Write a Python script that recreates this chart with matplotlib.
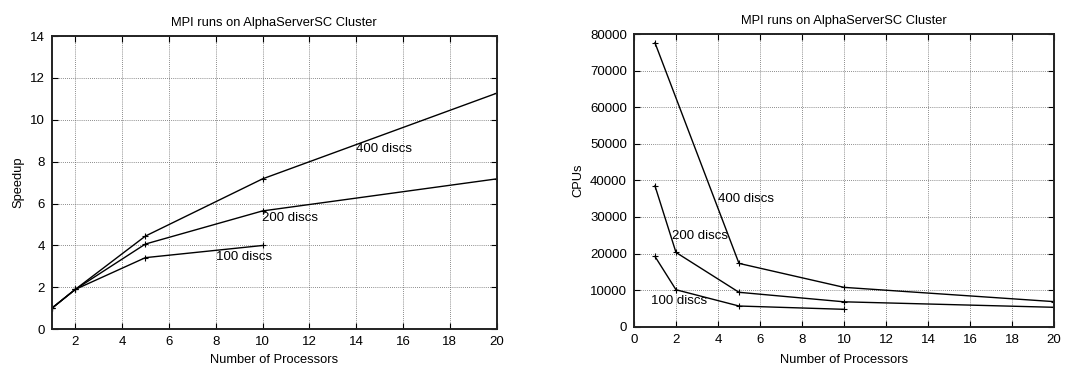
import matplotlib

matplotlib.use("Agg")
import matplotlib.pyplot as plt

# speedup panel
procs_100 = [1, 2, 5, 10]
speedup_100 = [1.0, 1.9, 3.42, 4.0]
procs_200 = [1, 2, 5, 10, 20]
speedup_200 = [1.0, 1.9, 4.07, 5.65, 7.18]
procs_400 = [1, 2, 5, 10, 20]
speedup_400 = [1.0, 1.9, 4.45, 7.18, 11.27]

# cpu time panel
cpu_procs_100 = [1, 2, 5, 10]
cpu_100 = [19200, 10100, 5650, 4750]
cpu_procs_200 = [1, 2, 5, 10, 20]
cpu_200 = [38500, 20300, 9400, 6800, 5300]
cpu_procs_400 = [1, 5, 10, 20]
cpu_400 = [77600, 17300, 10750, 6850]

TITLE = "MPI runs on AlphaServerSC Cluster"

plt.rcParams.update(
    {
        "font.family": ["Liberation Sans", "DejaVu Sans"],
        "font.size": 9.3,
        "axes.linewidth": 1.4,
        "axes.edgecolor": "#222222",
    }
)


def style(ax, labelpad):
    ax.grid(True, linestyle=(0, (1, 1.5)), color="#666666", linewidth=0.6)
    ax.tick_params(direction="in", length=4, width=0.8, top=True, right=True,
                   labelsize=9.5, pad=5)
    ax.set_title(TITLE, fontsize=9.3, pad=7)
    ax.set_xlabel("Number of Processors", fontsize=9.3, labelpad=labelpad)


def draw(ax, x, y):
    ax.plot(x, y, color="black", linewidth=1.0, marker="+", markersize=5,
            markeredgewidth=0.8)


fig = plt.figure(figsize=(10.8, 3.66), dpi=100)
ax1 = fig.add_axes([0.0479, 0.1003, 0.412, 0.8013])
ax2 = fig.add_axes([0.587, 0.1074, 0.389, 0.7997])

draw(ax1, procs_100, speedup_100)
draw(ax1, procs_200, speedup_200)
draw(ax1, procs_400, speedup_400)
ax1.set_xlim(1, 20)
ax1.set_ylim(0, 14)
ax1.set_xticks([2, 4, 6, 8, 10, 12, 14, 16, 18, 20])
ax1.set_yticks(range(0, 15, 2))
ax1.set_ylabel("Speedup", fontsize=9.3)
ax1.text(14, 8.6, "400 discs", va="center", ha="left", fontsize=9.5)
ax1.text(9.97, 5.3, "200 discs", va="center", ha="left", fontsize=9.5)
ax1.text(8.0, 3.47, "100 discs", va="center", ha="left", fontsize=9.5)
style(ax1, 4)

draw(ax2, cpu_procs_100, cpu_100)
draw(ax2, cpu_procs_200, cpu_200)
draw(ax2, cpu_procs_400, cpu_400)
ax2.set_xlim(0, 20)
ax2.set_ylim(0, 80000)
ax2.set_xticks(range(0, 21, 2))
ax2.set_yticks(range(0, 80001, 10000))
ax2.set_ylabel("CPUs", fontsize=9.3)
ax2.text(3.98, 35000, "400 discs", va="center", ha="left", fontsize=9.5)
ax2.text(1.8, 24900, "200 discs", va="center", ha="left", fontsize=9.5)
ax2.text(0.8, 7000, "100 discs", va="center", ha="left", fontsize=9.5)
style(ax2, 6)

fig.savefig("out.png", dpi=100, facecolor="white")
